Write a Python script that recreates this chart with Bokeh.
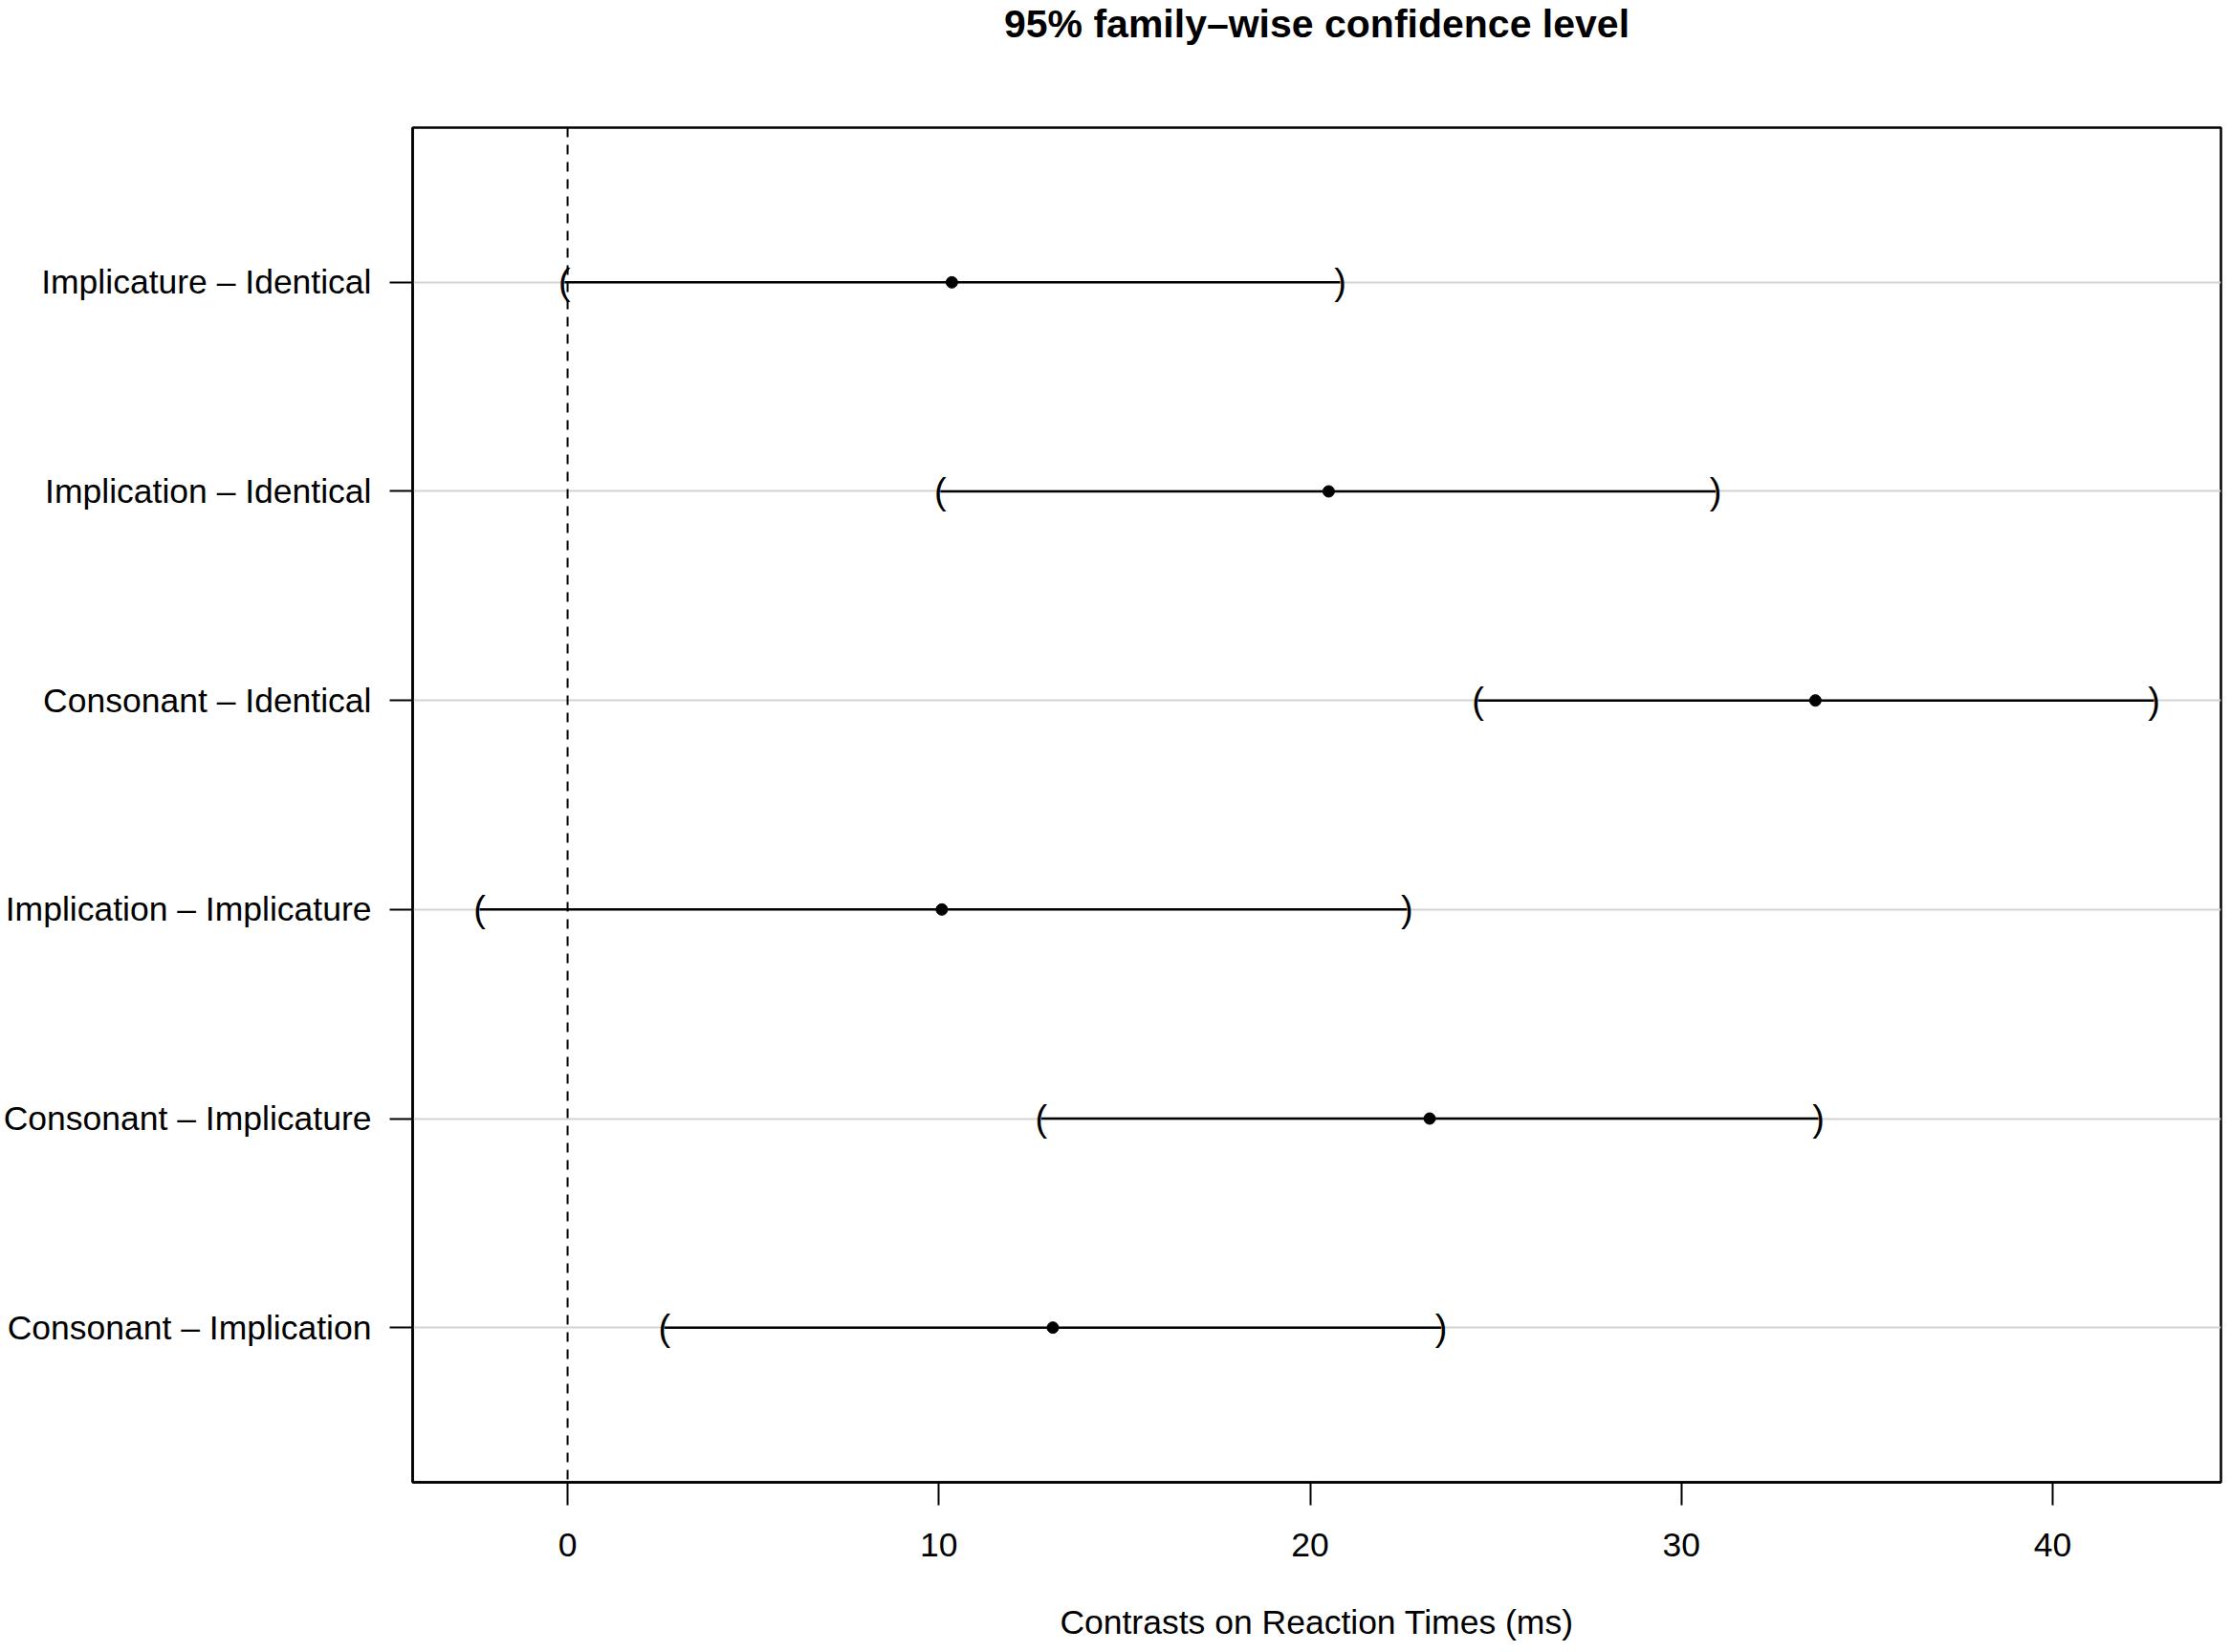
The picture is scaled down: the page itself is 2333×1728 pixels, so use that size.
from bokeh.plotting import figure
from bokeh.models import FixedTicker, Span, Range1d, ColumnDataSource, Title
from bokeh.core.properties import value
from bokeh.embed import file_html
from bokeh.resources import INLINE

comparisons = ["Implicature – Identical", "Implication – Identical", "Consonant – Identical",
               "Implication – Implicature", "Consonant – Implicature", "Consonant – Implication"]
diff = [10.35, 20.50, 33.61, 10.08, 23.22, 13.07]
lwr = [-0.08, 10.04, 24.52, -2.37, 12.76, 2.61]
upr = [20.81, 30.92, 42.73, 22.61, 33.69, 23.53]
x_ticks = [0, 10, 20, 30, 40]
title_text = "95% family–wise confidence level"

n = len(comparisons)
ypos = [n - i for i in range(n)]

xmin, xmax = min(lwr), max(upr)
pad = 0.04 * (xmax - xmin)
ypad = 0.04 * n

FONT = "Liberation Sans"
W, H = 2325, 1720
BL, BR, BT, BB = 430, 3, 133, 170

p = figure(width=W, height=H, output_backend="svg", toolbar_location=None,
           x_range=Range1d(xmin - pad, xmax + pad),
           y_range=Range1d(0.5 - ypad, n + 0.5 + ypad),
           min_border_left=BL, min_border_right=BR, min_border_top=BT, min_border_bottom=BB)
p.title = None

# spacer between frame and title (panels stack outward from the frame)
p.add_layout(Title(text=" ", text_font_size="1px", standoff=81), "above")
p.add_layout(Title(text=title_text, align="center", vertical_align="top", standoff=0,
                   text_font=FONT, text_font_size="41px", text_font_style="bold",
                   text_color="black"), "above")

src = ColumnDataSource(dict(y=ypos, diff=diff, lwr=lwr, upr=upr,
                            lb=["("] * n, rb=[")"] * n))

p.segment(x0="lwr", x1="upr", y0="y", y1="y", source=src, line_color="black", line_width=2.5)
p.text(x="lwr", y="y", text="lb", source=src, text_align="center", text_baseline="middle",
       text_font=value(FONT), text_font_size="38px", text_color="black")
p.text(x="upr", y="y", text="rb", source=src, text_align="center", text_baseline="middle",
       text_font=value(FONT), text_font_size="38px", text_color="black")
p.scatter(x="diff", y="y", source=src, size=12, color="black")

p.add_layout(Span(location=0, dimension="height", line_color="black",
                  line_dash="10 8", line_width=2))

# grid
p.xgrid.grid_line_color = None
p.ygrid.ticker = FixedTicker(ticks=ypos)
p.ygrid.grid_line_color = "#d3d3d3"
p.ygrid.grid_line_width = 2

# axes
p.xaxis.ticker = FixedTicker(ticks=x_ticks)
p.yaxis.ticker = FixedTicker(ticks=ypos)
p.yaxis.major_label_overrides = {y: lab for y, lab in zip(ypos, comparisons)}
for ax in (p.xaxis[0], p.yaxis[0]):
    ax.major_tick_in = 0
    ax.major_tick_out = 24
    ax.minor_tick_line_color = None
    ax.major_tick_line_width = 2
    ax.axis_line_width = 2.5
    ax.major_label_text_font = FONT
    ax.major_label_text_font_size = "35.5px"
    ax.major_label_text_color = "black"
    ax.axis_label_text_font = FONT
    ax.axis_label_text_font_size = "35.5px"
    ax.axis_label_text_font_style = "normal"
    ax.axis_label_text_color = "black"
p.xaxis.major_label_standoff = 29
p.yaxis.major_label_standoff = 19
p.xaxis.axis_label = "Contrasts on Reaction Times (ms)"
p.xaxis.axis_label_standoff = 46

p.outline_line_color = "black"
p.outline_line_width = 2.5
p.background_fill_color = "white"
p.border_fill_color = "white"

open("out.html", "w").write(file_html(p, INLINE))
